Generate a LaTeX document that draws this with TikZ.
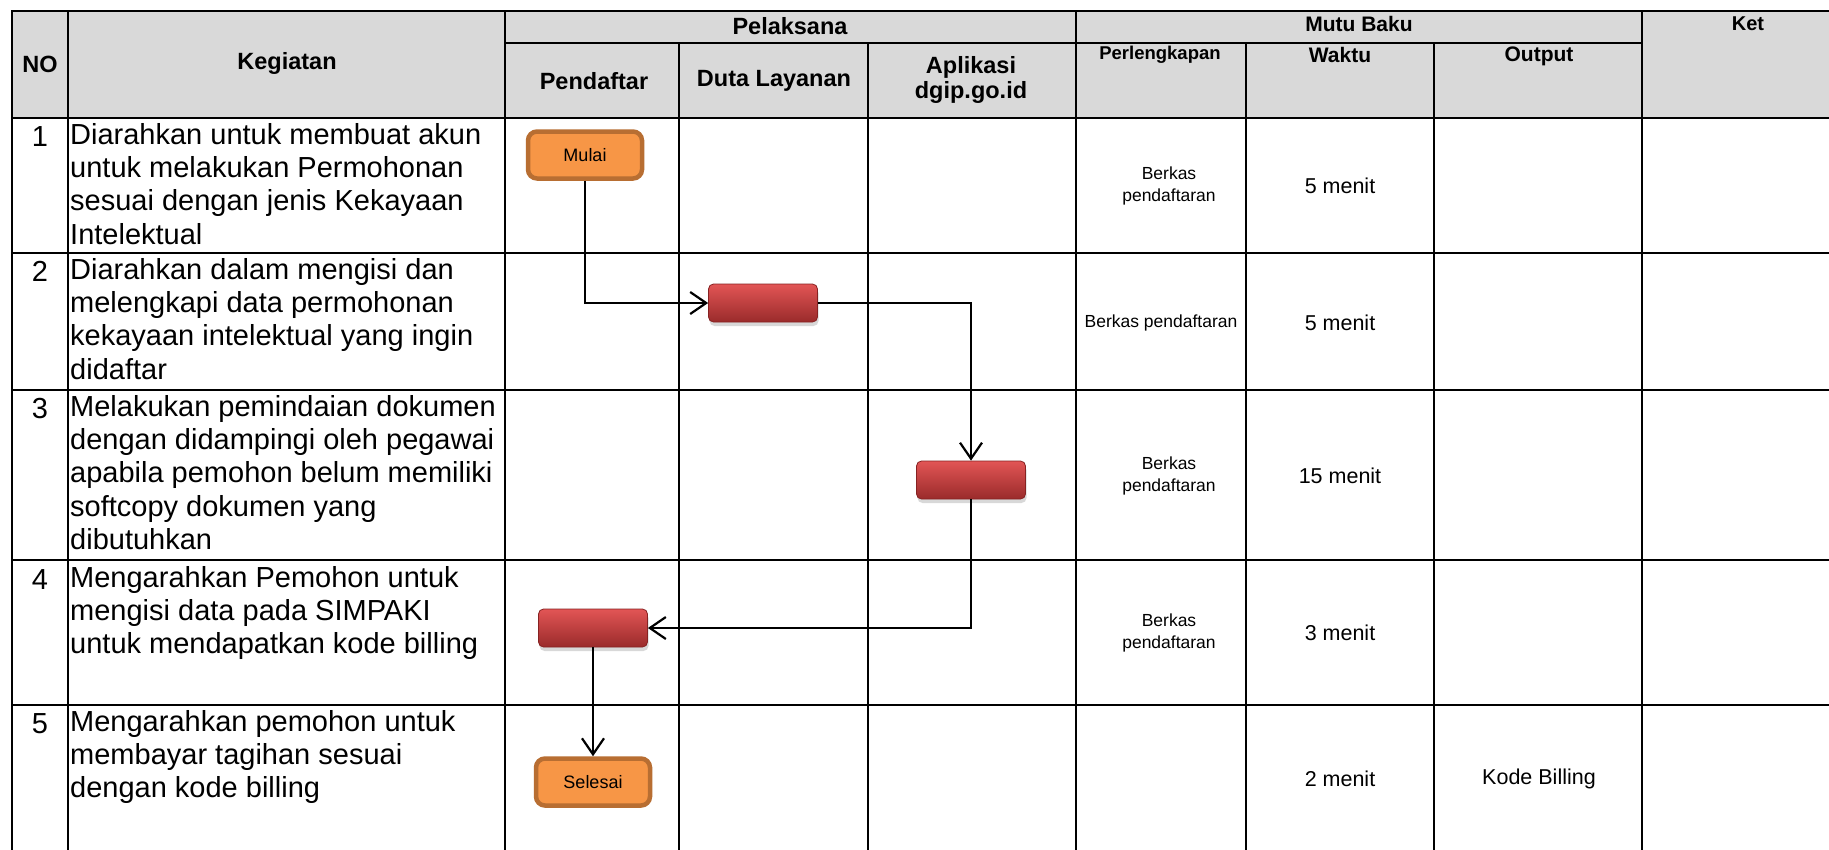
\documentclass[tikz,border=0pt]{standalone}
\usepackage{fontspec}
\setmainfont{Liberation Sans}
\usetikzlibrary{arrows.meta,shadows}
\definecolor{hdrgray}{HTML}{D9D9D9}
\definecolor{startfill}{HTML}{F79646}
\definecolor{startedge}{HTML}{B86E32}
\definecolor{boxtop}{HTML}{E25555}
\definecolor{boxmid}{HTML}{C53E3E}
\definecolor{boxbot}{HTML}{9A2B2B}
\definecolor{boxedge}{HTML}{862222}
\begin{document}
\begin{tikzpicture}[x=1pt,y=-1pt,
    grid/.style={black,line width=2.3pt,line cap=rect},
    terminal/.style={draw=startedge,fill=startfill,line width=4.5pt,rounded corners=9pt,minimum width=114pt,minimum height=47pt,inner sep=0pt,font=\fontsize{18}{21}\selectfont},
    procbox/.style={draw=boxedge,line width=0.8pt,top color=boxtop,middle color=boxmid,bottom color=boxbot,rounded corners=5pt,minimum width=109pt,minimum height=38pt,inner sep=0pt,drop shadow={shadow xshift=1pt,shadow yshift=-4pt,opacity=0.3}},
    flow/.style={black,line width=2pt,-{Straight Barb[length=16pt,width=22pt,line width=2.2pt]}},
    keg/.style={anchor=north west,align=left,inner sep=0pt,font=\fontsize{29}{33.3}\selectfont,execute at begin node=\strut},
    num/.style={anchor=base,inner sep=0pt,font=\fontsize{29}{33.3}\selectfont},
    hdr/.style={align=center,inner sep=0pt,font=\bfseries\fontsize{23.5}{24.5}\selectfont},
    subhdr/.style={align=center,inner sep=0pt,font=\bfseries\fontsize{21}{24}\selectfont},
    berkas/.style={align=center,inner sep=0pt,font=\fontsize{17.5}{22}\selectfont},
    val/.style={align=center,inner sep=0pt,font=\fontsize{21.5}{25}\selectfont}]
    \useasboundingbox (0,0) rectangle (1829,849);
    \fill[white] (0,0) rectangle (1829,849);
    \fill[hdrgray] (12,11) rectangle (1829,118);

    % table lines
    \draw[grid] (12,11) -- (1829,11);
    \draw[grid] (505,43) -- (1642,43);
    \draw[grid] (12,118) -- (1829,118);
    \draw[grid] (12,253) -- (1829,253);
    \draw[grid] (12,390) -- (1829,390);
    \draw[grid] (12,560) -- (1829,560);
    \draw[grid] (12,705) -- (1829,705);
    \draw[grid] (12,11) -- (12,849);
    \draw[grid] (68,11) -- (68,849);
    \draw[grid] (505,11) -- (505,849);
    \draw[grid] (679,43) -- (679,849);
    \draw[grid] (868,43) -- (868,849);
    \draw[grid] (1076,11) -- (1076,849);
    \draw[grid] (1246,43) -- (1246,849);
    \draw[grid] (1434,43) -- (1434,849);
    \draw[grid] (1642,11) -- (1642,849);

    % header
    \node[hdr] (hNo) at (40,64) {NO};
    \node[hdr] (hKeg) at (287,63) {Kegiatan};
    \node[hdr] (hPel) at (790,26) {Pelaksana};
    \node[subhdr] (hMutu) at (1359,24) {Mutu Baku};
    \node[subhdr,font=\bfseries\fontsize{20}{24}\selectfont] (hKet) at (1748,24) {Ket};
    \node[hdr] (hPdf) at (594,81) {Pendaftar};
    \node[hdr] (hDuta) at (774,81) {Duta Layanan};
    \node[hdr] (hApl) at (971,80) {Aplikasi\\dgip.go.id};
    \node[subhdr,font=\bfseries\fontsize{18.5}{22}\selectfont] (hPerl) at (1160,55) {Perlengkapan};
    \node[subhdr] (hWaktu) at (1340,55) {Waktu};
    \node[subhdr] (hOut) at (1539,56) {Output};

    % kegiatan
    \node[num] (n1) at (40,146) {1};
    \node[keg] (k1) at (70,123) {Diarahkan untuk membuat akun\\untuk melakukan Permohonan\\sesuai dengan jenis Kekayaan\\Intelektual};
    \node[num] (n2) at (40,281) {2};
    \node[keg] (k2) at (70,258) {Diarahkan dalam mengisi dan\\melengkapi data permohonan\\kekayaan intelektual yang ingin\\didaftar};
    \node[num] (n3) at (40,418) {3};
    \node[keg] (k3) at (70,395) {Melakukan pemindaian dokumen\\dengan didampingi oleh pegawai\\apabila pemohon belum memiliki\\softcopy dokumen yang\\dibutuhkan};
    \node[num] (n4) at (40,589) {4};
    \node[keg] (k4) at (70,566) {Mengarahkan Pemohon untuk\\mengisi data pada SIMPAKI\\untuk mendapatkan kode billing};
    \node[num] (n5) at (40,733) {5};
    \node[keg] (k5) at (70,710) {Mengarahkan pemohon untuk\\membayar tagihan sesuai\\dengan kode billing};

    % mutu baku
    \node[berkas] (p1) at (1169,186) {Berkas\\pendaftaran};
    \node[berkas] (p2) at (1161,323) {Berkas pendaftaran};
    \node[berkas] (p3) at (1169,476) {Berkas\\pendaftaran};
    \node[berkas] (p4) at (1169,633) {Berkas\\pendaftaran};
    \node[val] (w1) at (1340,186) {5 menit};
    \node[val] (w2) at (1340,323) {5 menit};
    \node[val] (w3) at (1340,476) {15 menit};
    \node[val] (w4) at (1340,633) {3 menit};
    \node[val] (w5) at (1340,779) {2 menit};
    \node[val] (o5) at (1539,779) {Kode Billing};

    % alur
    \node[terminal] (mulai) at (585,155) {Mulai};
    \node[procbox] (dtl) at (763,303) {};
    \node[procbox] (apl) at (971,480) {};
    \node[procbox] (pdf) at (593,628) {};
    \node[terminal] (selesai) at (593,782) {Selesai};

    \draw[flow] (mulai.south) |- (dtl.west);
    \draw[flow] (dtl.east) -| (apl.north);
    \draw[flow] (apl.south) |- (pdf.east);
    \draw[flow] (pdf.south) -- (selesai.north);
\end{tikzpicture}
\end{document}
